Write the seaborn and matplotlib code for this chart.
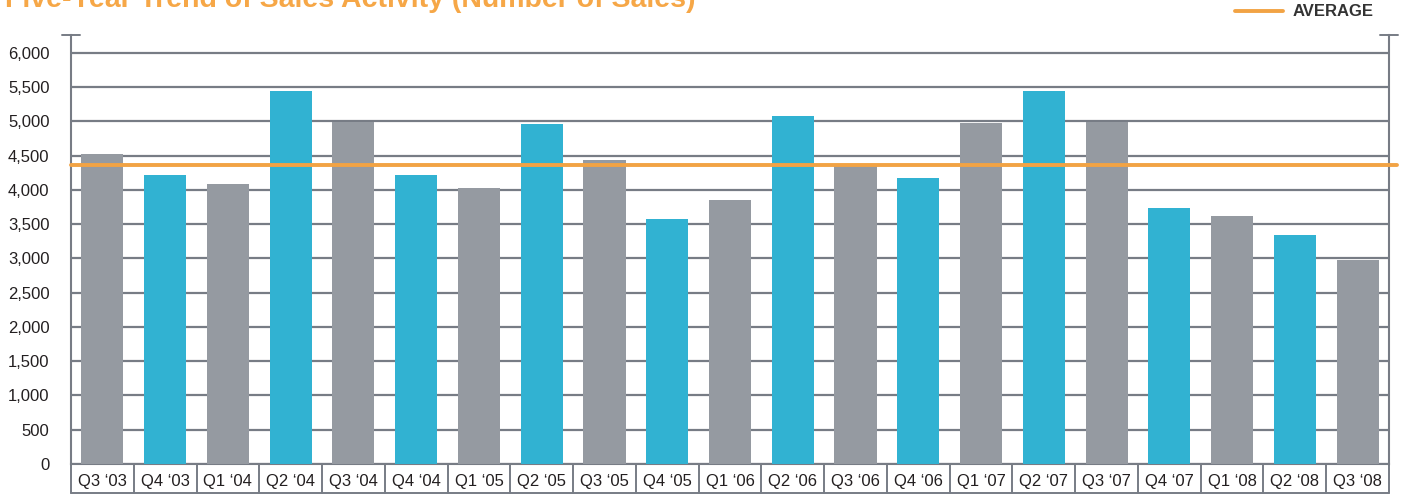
import seaborn as sns
import matplotlib.pyplot as plt
from matplotlib.lines import Line2D

quarters = ["Q3 \u201803", "Q4 \u201803", "Q1 \u201804", "Q2 \u201804", "Q3 \u201804", "Q4 \u201804",
            "Q1 \u201805", "Q2 \u201805", "Q3 \u201805", "Q4 \u201805", "Q1 \u201806", "Q2 \u201806",
            "Q3 \u201806", "Q4 \u201806", "Q1 \u201807", "Q2 \u201807", "Q3 \u201807", "Q4 \u201807",
            "Q1 \u201808", "Q2 \u201808", "Q3 \u201808"]
sales = [4530, 4222, 4080, 5440, 4995, 4222, 4024, 4962, 4434, 3575, 3856,
         5075, 4350, 4180, 4976, 5440, 4995, 3730, 3617, 3335, 2975]
average = 4360
yticks = list(range(0, 6001, 500))

gray = "#959AA1"
blue = "#31B2D2"
orange = "#F2A344"
line_col = "#777C85"
text_col = "#231F20"
colors = [gray if i % 2 == 0 else blue for i in range(len(quarters))]

sns.set_style("white")
plt.rcParams["font.family"] = ["Liberation Sans", "DejaVu Sans"]

fig = plt.figure(figsize=(14.04, 4.95), dpi=100)
ax = fig.add_axes([71 / 1404, 1 - 464 / 495, (1389 - 71) / 1404, (464 - 35) / 495])

sns.barplot(x=quarters, y=sales, hue=quarters, palette=colors, legend=False,
            width=0.67, saturation=1, linewidth=0, edgecolor="none", ax=ax, zorder=3)

ax.set_xlim(-0.5, len(quarters) - 0.5)
ax.set_ylim(0, 6260)
ax.set_yticks(yticks)
ax.set_yticklabels([f"{v:,}" for v in yticks], fontsize=12, color=text_col)
ax.yaxis.grid(True, color=line_col, lw=1.6, zorder=1)
ax.tick_params(axis="y", length=9.5, width=1.4, color=line_col, pad=6)
ax.tick_params(axis="x", length=0, pad=7, labelsize=12, labelcolor=text_col)
ax.set_xlabel("")
ax.set_ylabel("")

ax.spines["top"].set_visible(False)
for s in ["left", "right", "bottom"]:
    ax.spines[s].set_color(line_col)
    ax.spines[s].set_linewidth(1.5)

# average line
ax.axhline(average, xmin=0, xmax=1.006, color=orange, lw=2.8, zorder=4, clip_on=False)

# caps on top of the spines
for xc in (0, 1):
    ax.add_line(Line2D([xc - 0.0068, xc + 0.0068], [1, 1], transform=ax.transAxes,
                       color=line_col, lw=1.4, clip_on=False))

# label boxes below the axis
box_depth = -29 / 429
trans = ax.get_xaxis_transform()
for i in range(len(quarters) + 1):
    ax.add_line(Line2D([i - 0.5, i - 0.5], [0, box_depth], transform=trans,
                       color=line_col, lw=1.4, clip_on=False))
ax.add_line(Line2D([-0.5, len(quarters) - 0.5], [box_depth, box_depth], transform=trans,
                   color=line_col, lw=1.4, clip_on=False))

fig.text(5 / 1404, 1 - 7 / 495, "Five-Year Trend of Sales Activity (Number of Sales)",
         color="#F6A747", fontsize=20.5, fontweight="bold", ha="left", va="baseline")

fig.legend(handles=[Line2D([], [], color=orange, lw=2.8)], labels=["AVERAGE"],
           loc="center right", bbox_to_anchor=(1374 / 1404, 1 - 12 / 495),
           frameon=False, borderaxespad=0, borderpad=0, handlelength=2.9,
           handletextpad=0.6, prop={"weight": "bold", "size": 12}, labelcolor="#333333")

fig.savefig("out.png", dpi=100)
